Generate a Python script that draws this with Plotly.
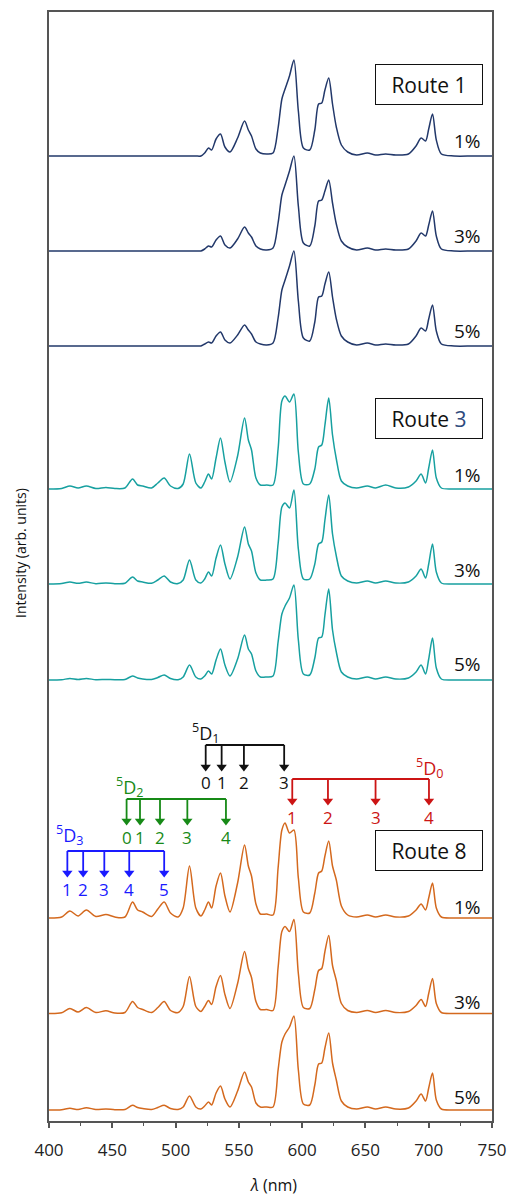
import plotly.graph_objects as go

# ---------------- data ----------------
wavelength = [400, 410, 416.5, 423, 429.5, 437, 445, 452, 460, 466,
              470, 474, 481, 486, 491, 496, 502, 506, 511, 516,
              520, 523, 526, 528.5, 532, 535.5, 539, 543, 549, 554.5,
              557.5, 560, 563.5, 567, 572, 577, 581, 584, 586.5, 590,
              593.5, 597, 601, 606, 610, 613, 615.5, 618, 621, 624,
              627, 631, 636, 643, 651.5, 658, 666, 674, 684, 690,
              694, 697.5, 700, 703, 706, 710, 720, 735, 750]

route1_1 = [0, 0, 0, 0, 0, 0, 0, 0, 0, 0,
            0, 0, 0, 0, 0, 0, 0, 0, 0, 0,
            0, 3, 8, 6, 17, 22, 9, 4, 18, 35,
            26, 20, 7, 3, 2, 3, 28, 57, 67, 80,
            96, 45, 8, 6, 26, 52, 53, 66, 78, 52,
            29, 11, 4, 1, 3, 1, 2, 1, 2, 10,
            18, 15, 27, 42, 16, 2, 0, 0, 0]
route1_3 = [0, 0, 0, 0, 0, 0, 0, 0, 0, 0,
            0, 0, 0, 0, 0, 0, 0, 0, 0, 0,
            0, 2, 5, 4, 11, 15, 6, 3, 12, 24,
            18, 14, 5, 2, 1, 3, 28, 56, 66, 80,
            95, 45, 8, 5, 25, 50, 51, 60, 71, 48,
            27, 10, 4, 1, 3, 1, 2, 1, 2, 10,
            18, 15, 26, 40, 15, 2, 0, 0, 0]
route1_5 = [0, 0, 0, 0, 0, 0, 0, 0, 0, 0,
            0, 0, 0, 0, 0, 0, 0, 0, 0, 0,
            0, 2, 4, 3, 10, 14, 6, 3, 11, 21,
            16, 12, 4, 2, 1, 3, 28, 56, 66, 80,
            95, 45, 8, 5, 24, 49, 50, 62, 74, 49,
            27, 10, 4, 1, 3, 1, 2, 1, 2, 10,
            18, 15, 27, 41, 15, 2, 0, 0, 0]

route3_1 = [0, 0.5, 3, 1, 3, 0.5, 1.5, 0.5, 1, 10,
            4, 3, 1, 6, 11, 3, 0.5, 5, 35, 6,
            1, 7, 15, 10, 31, 51, 27, 7, 33, 71,
            49, 39, 11, 4, 4, 4, 40, 88, 93, 87,
            95, 37, 5, 5, 20, 42, 44, 64, 91, 54,
            30, 8, 3, 1, 3, 1, 4, 1, 2, 8,
            15, 6, 21, 39, 11, 1, 0, 0, 0]
route3_3 = [0, 0.5, 2, 0.7, 2, 0.3, 1, 0.3, 0.7, 7,
            3, 2, 0.7, 4, 8, 2, 0.5, 4, 24, 4,
            1, 5, 12, 8, 26, 39, 20, 5, 27, 57,
            40, 33, 11, 4, 4, 5, 40, 77, 81, 76,
            94, 35, 5, 5, 20, 40, 42, 64, 89, 50,
            28, 8, 3, 1, 3, 1, 3, 1, 2, 8,
            15, 6, 20, 40, 12, 1, 0, 0, 0]
route3_5 = [0, 0.3, 1.5, 0.5, 1.5, 0.3, 0.5, 0.3, 0.5, 4,
            2, 1, 0.5, 2.5, 5, 1.5, 0.3, 3, 15, 3,
            1, 4, 9, 6, 20, 31, 15, 4, 21, 45,
            31, 26, 9, 3, 3, 4, 38, 66, 74, 82,
            95, 40, 6, 5, 22, 42, 43, 65, 91, 50,
            28, 8, 3, 1, 3, 1, 3, 1, 2, 8,
            15, 6, 21, 42, 12, 1, 0, 0, 0]

route8_1 = [0, 1, 7, 2, 8, 1.5, 3.5, 1, 1, 16,
            8, 6, 1.5, 9, 16, 5, 1, 10, 52, 10,
            2, 8, 16, 10, 32, 45, 22, 6, 35, 73,
            52, 42, 14, 4, 4, 3, 50, 88, 95, 85,
            88, 40, 6, 5, 25, 45, 47, 62, 77, 52,
            38, 12, 3, 1, 3, 1, 3, 1, 2, 8,
            14, 8, 20, 35, 10, 1, 0, 0, 0]
route8_3 = [0, 0.7, 5, 1.5, 6, 1, 2.7, 0.5, 1, 12,
            6, 4, 1, 6, 12, 3, 1, 7, 37, 7,
            2, 7, 13, 9, 27, 38, 19, 5, 30, 62,
            45, 36, 12, 4, 4, 3, 46, 82, 87, 82,
            94, 40, 6, 5, 24, 43, 45, 62, 78, 48,
            33, 10, 3, 1, 3, 1, 3, 1, 2, 8,
            14, 7, 20, 35, 10, 1, 0, 0, 0]
route8_5 = [0, 0.3, 1.7, 0.5, 2.3, 0.5, 1, 0.3, 0.5, 4.7,
            2.5, 1.5, 0.5, 2.5, 4.7, 1.5, 0.5, 3, 14, 3,
            1, 4, 8, 5, 17, 24, 11, 3, 19, 38,
            28, 23, 7, 3, 3, 3, 40, 68, 76, 83,
            94, 40, 6, 5, 25, 46, 47, 62, 77, 47,
            30, 9, 3, 1, 3, 1, 3, 1, 2, 9,
            16, 9, 22, 37, 10, 1, 0, 0, 0]

concentration_labels = ["1%", "3%", "5%"]
route_labels = ["Route 1", "Route <span style='color:#2e4a7d'>3</span>", "Route 8"]
x_ticks = [400, 450, 500, 550, 600, 650, 700, 750]
x_minor_ticks = [425, 475, 525, 575, 625, 675, 725]

# transitions (wavelength positions, nm)
d3_wl = [414.5, 427, 443.7, 463.4, 491]
d3_lab = ["1", "2", "3", "4", "5"]
d2_wl = [461.3, 471.9, 487.7, 509.3, 539.8]
d2_lab = ["0", "1", "2", "3", "4"]
d1_wl = [523.8, 536.4, 554, 585.8]
d1_lab = ["0", "1", "2", "3"]
d0_wl = [592.2, 620.4, 658, 700.2]
d0_lab = ["1", "2", "3", "4"]

# ---------------- layout helpers ----------------
W, H = 509, 1195
PL, PR, PT, PB = 49, 492, 12, 1121     # plot area in page pixels
FONT = "Open Sans"


def yd(py):
    return PB - py


def xd(px):
    return 400 + (px - PL) * 350 / (PR - PL)


series = [route1_1, route1_3, route1_5, route3_1, route3_3, route3_5, route8_1, route8_3, route8_5]
colors = ["#22386a"] * 3 + ["#17a0a0"] * 3 + ["#d4691e"] * 3
baselines_px = [156, 251, 346, 489, 584, 680, 918, 1013.5, 1110]
pct_px = [141, 236, 331, 475, 570, 664, 907, 1002, 1097]
route_box_px = [84, 418, 850]

fig = go.Figure()
annotations = []

for vals, col, bpx in zip(series, colors, baselines_px):
    off = yd(bpx)
    fig.add_trace(go.Scatter(x=wavelength, y=[v + off for v in vals], mode="lines",
                             line=dict(color=col, width=1.5, shape="spline", smoothing=0.8),
                             hoverinfo="skip", showlegend=False))

for i, py in enumerate(pct_px):
    annotations.append(dict(x=xd(467.5), y=yd(py), xref="x", yref="y", text=concentration_labels[i % 3],
                            showarrow=False, font=dict(family=FONT, size=19, color="#111"),
                            xanchor="center", yanchor="middle"))

for lab, py in zip(route_labels, route_box_px):
    annotations.append(dict(x=xd(428.5), y=yd(py), xref="x", yref="y", text=lab, showarrow=False,
                            font=dict(family=FONT, size=21, color="#111"),
                            bordercolor="#111", borderwidth=1, bgcolor="white",
                            width=104, height=37, borderpad=1,
                            xanchor="center", yanchor="middle"))

groups = [
    (d3_wl, d3_lab, "#1a1aff", "<sup>5</sup>D<sub>3</sub>", xd(69), 835, 851, 877, 889),
    (d2_wl, d2_lab, "#178a17", "<sup>5</sup>D<sub>2</sub>", xd(129), 787, 799, 825, 837),
    (d1_wl, d1_lab, "#111111", "<sup>5</sup>D<sub>1</sub>", xd(205), 733, 745, 771, 782),
    (d0_wl, d0_lab, "#cc1414", "<sup>5</sup>D<sub>0</sub>", xd(429), 768, 779, 805, 817),
]

for wl, labs, col, title, tx, ty, ly, tipy, ny in groups:
    xs, ys = [wl[0], wl[-1], None], [yd(ly), yd(ly), None]
    for w in wl:
        xs += [w, w, None]
        ys += [yd(ly), yd(tipy) + 5, None]
    fig.add_trace(go.Scatter(x=xs, y=ys, mode="lines", line=dict(color=col, width=1.8),
                             hoverinfo="skip", showlegend=False))
    fig.add_trace(go.Scatter(x=wl, y=[yd(tipy) + 4] * len(wl), mode="markers",
                             marker=dict(symbol="triangle-down", size=9, color=col, line=dict(width=0)),
                             hoverinfo="skip", showlegend=False))
    for w, l in zip(wl, labs):
        annotations.append(dict(x=w, y=yd(ny), xref="x", yref="y", text=l, showarrow=False,
                                font=dict(family=FONT, size=17, color=col),
                                xanchor="center", yanchor="middle"))
    annotations.append(dict(x=tx, y=yd(ty), xref="x", yref="y", text=title, showarrow=False,
                            font=dict(family=FONT, size=18, color=col),
                            xanchor="center", yanchor="middle"))

# axis titles (paper coordinates)
annotations.append(dict(x=(273.5 - PL) / (PR - PL), y=-(1185 - PB) / (PB - PT), xref="paper", yref="paper",
                        text="<i>λ</i> (nm)", showarrow=False, font=dict(family=FONT, size=16, color="#111"),
                        xanchor="center", yanchor="middle"))
annotations.append(dict(x=(20 - PL) / (PR - PL), y=(PB - 553) / (PB - PT), xref="paper", yref="paper",
                        text="Intensity (arb. units)", showarrow=False, textangle=-90,
                        font=dict(family=FONT, size=14, color="#111"),
                        xanchor="center", yanchor="middle"))

fig.update_layout(
    width=W, height=H, autosize=False,
    margin=dict(l=PL, r=W - PR, t=PT, b=H - PB, pad=0),
    paper_bgcolor="white", plot_bgcolor="white",
    annotations=annotations,
    font=dict(family=FONT, color="#111"),
)
fig.update_xaxes(range=[400, 750], tickmode="array", tickvals=x_ticks,
                 ticks="outside", ticklen=5, tickwidth=1.5, tickcolor="#555", automargin=False,
                 ticklabelstandoff=8,
                 minor=dict(tickvals=x_minor_ticks, ticks="outside", ticklen=3,
                            tickwidth=1.2, tickcolor="#555"),
                 showgrid=False, zeroline=False, showline=True, linecolor="#555", linewidth=2, mirror=True,
                 tickfont=dict(family=FONT, size=17, color="#222"))
fig.update_yaxes(range=[0, PB - PT], showticklabels=False, ticks="", showgrid=False, zeroline=False,
                 automargin=False, showline=True, linecolor="#555", linewidth=2, mirror=True)

fig.write_html("out.html")
